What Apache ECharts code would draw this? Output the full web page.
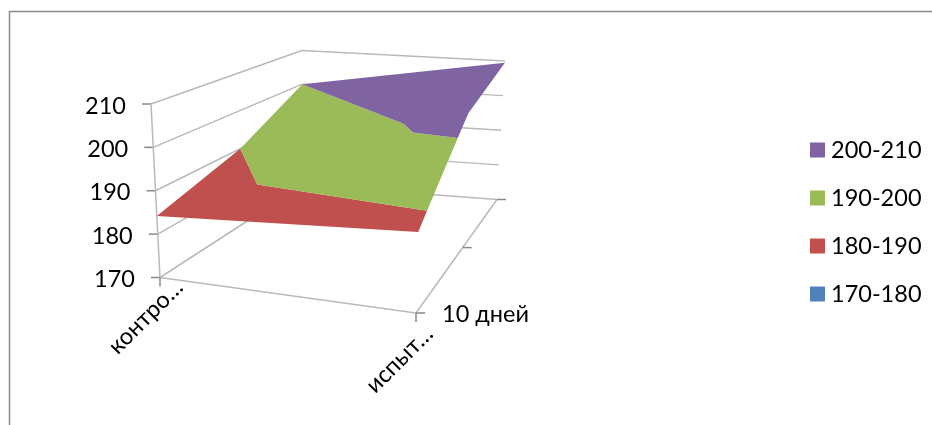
<!DOCTYPE html>
<html>
<head>
<meta charset="utf-8">
<style>html,body{margin:0;padding:0;background:#fff}#chart{width:932px;height:425px}</style>
<script src="https://cdn.jsdelivr.net/npm/echarts@6/dist/echarts.min.js"></script>
</head>
<body>
<div id="chart"></div>
<script>
// Surface values: one list per category, front to back along the depth axis.
const categories = ['контро…', 'испыт…'];
const depthLabels = ['10 дней', '', ''];
const controlValues = [184.2, 190, 200];
const trialValues = [187.4, 203.9, 209.5];
const valueTicks = [170, 180, 190, 200, 210];
const bandNames = ['170-180', '180-190', '190-200', '200-210'];
const bandColors = ['#4F81BD', '#C0504D', '#9BBB59', '#8064A2'];

const surface = [controlValues, trialValues];
const FONT = 'Lato, "Open Sans", sans-serif';
const FONT_SIZE = 23.5;
const AXIS = '#b9b9b9';
const TICK = '#8a8a8a';

// Box corners on screen, indexed [category][depth]; weights give the perspective.
const floorCorners = [[[160, 277.5], [303, 185]], [[416, 313], [497, 199.5]]];
const topCorners = [[[151, 104], [302, 50.5]], [[421, 127], [505, 61]]];
const depthWeights = [1, 1.36];

function project(cx, dz, value) {
  const h = (value - valueTicks[0]) / (valueTicks[valueTicks.length - 1] - valueTicks[0]);
  const d = dz / (depthLabels.length - 1);
  let X = 0, Y = 0, W = 0;
  for (let i = 0; i < 2; i++) {
    for (let j = 0; j < 2; j++) {
      const b = (i ? cx : 1 - cx) * (j ? d : 1 - d) * depthWeights[j];
      const f = floorCorners[i][j], t = topCorners[i][j];
      X += b * (f[0] + (t[0] - f[0]) * h);
      Y += b * (f[1] + (t[1] - f[1]) * h);
      W += b;
    }
  }
  return [X / W, Y / W];
}

// The grid is split into triangles along the diagonals that run to the middle of the far category.
const triangles = [
  [[0, 0], [1, 0], [1, 1]],
  [[0, 0], [1, 1], [0, 1]],
  [[0, 1], [1, 1], [0, 2]],
  [[0, 2], [1, 1], [1, 2]]
];

function clipAgainst(poly, level, keepAbove) {
  const out = [];
  for (let i = 0; i < poly.length; i++) {
    const a = poly[i], b = poly[(i + 1) % poly.length];
    const ina = keepAbove ? a[2] >= level : a[2] <= level;
    const inb = keepAbove ? b[2] >= level : b[2] <= level;
    if (ina) out.push(a);
    if (ina !== inb) {
      const t = (level - a[2]) / (b[2] - a[2]);
      out.push([a[0] + (b[0] - a[0]) * t, a[1] + (b[1] - a[1]) * t, level]);
    }
  }
  return out;
}

// Outline of one colour band: clip every triangle, drop the edges shared by two pieces, chain the rest.
function bandOutline(lo, hi) {
  const edges = new Map();
  const key = p => p[0].toFixed(5) + ',' + p[1].toFixed(5);
  triangles.forEach(tri => {
    const poly = clipAgainst(clipAgainst(tri.map(p => [p[0], p[1], surface[p[0]][p[1]]]), lo, true), hi, false);
    poly.forEach((a, i) => {
      const b = poly[(i + 1) % poly.length];
      const ka = key(a), kb = key(b);
      if (ka === kb) return;
      const k = ka < kb ? ka + '|' + kb : kb + '|' + ka;
      if (edges.has(k)) edges.get(k).shared = true;
      else edges.set(k, { a: a, b: b, ka: ka, kb: kb, shared: false });
    });
  });
  const rest = [...edges.values()].filter(e => !e.shared);
  if (!rest.length) return [];
  const outline = [rest[0].a];
  let tip = rest[0].kb, head = rest[0].b;
  rest.splice(0, 1);
  while (rest.length) {
    const i = rest.findIndex(e => e.ka === tip || e.kb === tip);
    if (i < 0) break;
    const e = rest.splice(i, 1)[0];
    outline.push(head);
    if (e.ka === tip) { tip = e.kb; head = e.b; } else { tip = e.ka; head = e.a; }
  }
  return outline;
}

function bandSeries(name, band) {
  const outline = bandOutline(valueTicks[band], valueTicks[band + 1]);
  return {
    name: name,
    type: 'custom',
    coordinateSystem: 'none',
    zlevel: 1,
    z: 5,
    silent: true,
    itemStyle: { color: bandColors[band], opacity: 1 },
    data: [outline.map(p => p[2])],
    renderItem: function () {
      if (outline.length < 3) return null;
      return {
        type: 'polygon',
        shape: { points: outline.map(p => project(p[0], p[1], p[2])) },
        style: { fill: bandColors[band], opacity: 1 }
      };
    }
  };
}

function line(a, b, color, width) {
  return {
    type: 'line',
    shape: { x1: a[0], y1: a[1], x2: b[0], y2: b[1] },
    style: { stroke: color, lineWidth: width || 1.5 }
  };
}

function label(text, x, y, align, rotation) {
  return {
    type: 'text',
    x: x, y: y,
    rotation: rotation || 0,
    style: { text: text, fill: '#000', font: FONT_SIZE + 'px ' + FONT, align: align, verticalAlign: 'middle' }
  };
}

// Walls, floor, ticks and axis labels of the box.
function renderAxes() {
  const kids = [];
  const vMin = valueTicks[0];
  const vMax = valueTicks[valueTicks.length - 1];
  const dMax = depthLabels.length - 1;
  valueTicks.forEach(v => {
    const front = project(0, 0, v), corner = project(0, dMax, v), right = project(1, dMax, v);
    kids.push(line(front, corner, AXIS), line(corner, right, AXIS));
    kids.push(line([front[0] - 9, front[1]], front, TICK));
    kids.push(label(String(v), front[0] - 25, front[1] + 2, 'right'));
  });
  kids.push(line(project(0, 0, vMin), project(0, 0, vMax), AXIS));
  kids.push(line(project(0, 0, vMin), project(1, 0, vMin), AXIS));
  kids.push(line(project(1, 0, vMin), project(1, dMax, vMin), AXIS));
  categories.forEach((c, i) => {
    const p = project(i, 0, vMin);
    kids.push(line(p, [p[0], p[1] + 9], TICK));
    kids.push(label(c, p[0] + (i ? 13 : 19), p[1] + (i ? 17 : 6), 'right', Math.PI / 4));
  });
  depthLabels.forEach((d, i) => {
    const p = project(1, i, vMin);
    kids.push(line(p, [p[0] + 9, p[1]], TICK));
    if (d) kids.push(label(d, p[0] + 26, p[1] + 1, 'left'));
  });
  return { type: 'group', children: kids };
}

const chart = echarts.init(document.getElementById('chart'), null, { renderer: 'canvas' });
chart.setOption({
  animation: false,
  backgroundColor: '#fff',
  graphic: [{
    type: 'polyline',
    shape: { points: [[9.5, 425], [9.5, 11.5], [932, 11.5]] },
    style: { stroke: '#8c8c8c', fill: 'none', lineWidth: 1.5 }
  }],
  legend: {
    orient: 'vertical',
    left: 805,
    top: 131.5,
    itemWidth: 15,
    itemHeight: 15,
    itemGap: 21,
    icon: 'rect',
    selectedMode: false,
    textStyle: { fontFamily: FONT, fontSize: FONT_SIZE, color: '#000', lineHeight: 27, padding: [0, 0, 0, 1] },
    data: bandNames.slice().reverse()
  },
  series: [
    {
      name: 'axes',
      type: 'custom',
      coordinateSystem: 'none',
      z: 1,
      silent: true,
      data: [[0]],
      renderItem: renderAxes
    }
  ].concat(bandNames.map(bandSeries))
});
</script>
</body>
</html>
